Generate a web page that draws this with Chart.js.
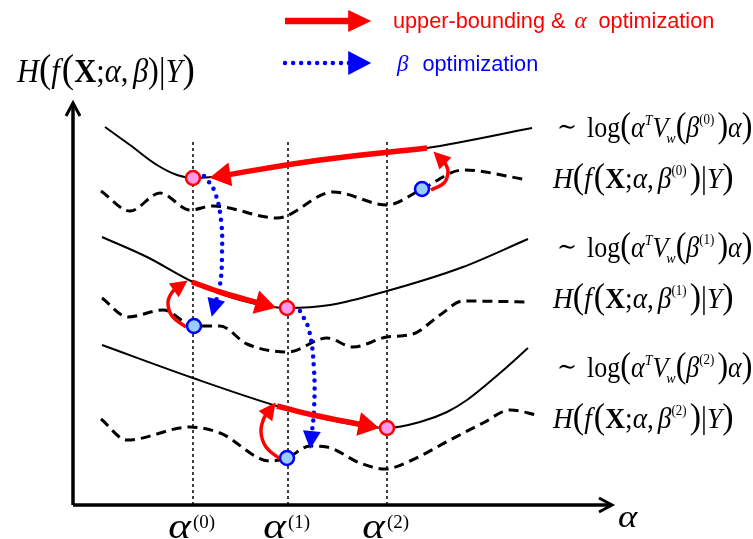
<!DOCTYPE html>
<html>
<head>
<meta charset="utf-8">
<script src="https://cdn.jsdelivr.net/npm/chart.js@4.4.1/dist/chart.umd.min.js"></script>
<style>
  html, body { margin: 0; padding: 0; background: #fff; }
  #wrap { width: 753px; height: 539px; }
</style>
</head>
<body>
<div id="wrap"><canvas id="diagram"></canvas></div>
<script>
// alpha of the three iterates (vertical guides)
const alphaIter = [120, 215, 314];
const iterTags = ['(0)', '(1)', '(2)'];

// upper bounds ~ log(a^T Vw(b) a)
const ub0Alpha = [32, 57, 84, 104, 120, 227, 354, 459];
const ub0 = [378, 360, 340, 330, 327, 342, 357, 377];
const ub1Alpha = [29, 74, 120, 167, 214, 257, 314, 390, 455];
const ub1 = [268, 248, 223, 205, 197, 200, 214, 238, 266];
const ub2Alpha = [29, 120, 204, 257, 314, 347, 374, 394, 427, 455];
const ub2 = [160, 127, 99, 85, 77, 83, 93, 105, 132, 157];

// true entropies H(f(X;a,b)|Y)
const h0Alpha = [28, 57, 87, 117, 140, 204, 260, 314, 349, 390, 455];
const h0 = [314, 294, 312, 295, 299, 287, 313, 300, 316, 335, 325];
const h1Alpha = [29, 55, 90, 121, 147, 174, 215, 254, 280, 314, 340, 367, 390, 457];
const h1 = [207, 188, 195, 179, 179, 161, 153, 167, 158, 168, 171, 190, 204, 203];
const h2Alpha = [28, 54, 117, 147, 197, 214, 237, 254, 287, 312, 337, 377, 410, 437, 464];
const h2 = [86, 65, 78, 72, 44, 47, 59, 58, 42, 36, 44, 65, 82, 95, 90];

// iterates: after alpha step (pink) and after beta step (blue)
const alphaStepA = [120, 214, 314];
const alphaStepH = [327, 197, 77];
const betaStepA = [349, 121, 214];
const betaStepH = [316, 179, 47];

// alpha optimisation moves along the bound
const moveA = [[354, 247, 147], [119, 147, 193], [204, 240, 296]];
const moveH = [[357, 345, 329], [223, 213, 200], [99, 90, 79]];
// upper-bounding hooks (entropy -> bound)
const hookA = [[358, 371, 375, 372, 367], [113, 99, 95, 100, 107], [207, 193, 188, 191, 197]];
const hookH = [[315, 322, 333, 342, 347], [178, 189, 203, 214, 219], [46, 58, 73, 87, 95]];
// beta optimisation moves
const betaMoveA = [[131, 141, 148, 149, 147, 141], [227, 236, 241, 241, 238]];
const betaMoveH = [[329, 315, 285, 250, 220, 197], [194, 175, 135, 95, 65]];

// legend sample arrows
const legendA = [212, 289];
const legendRedH = 484;
const legendBlueH = 442;

const axisXEnd = 539;
const axisYEnd = 402;

const SERIF = '"Liberation Serif", "Times New Roman", serif';
const SANS = '"Liberation Sans", Arial, sans-serif';
const RED = '#ff0000';
const BLUE = '#0000ff';

function pts(a, h) {
    return a.map((v, i) => ({ x: v, y: h[i] }));
}

function curve(a, h, dashed) {
    return {
        data: pts(a, h), showLine: true, pointRadius: 0,
        borderColor: '#000', borderWidth: dashed ? 3 : 2,
        borderDash: dashed ? [10, 6] : [],
        cubicInterpolationMode: 'monotone', order: 5
    };
}

function arrow(a, h, color, width, head, dotted) {
    return {
        data: pts(a, h), showLine: true, pointRadius: 0,
        borderColor: color, borderWidth: width, tension: 0.4,
        borderDash: dotted ? [0, 8] : [], borderCapStyle: dotted ? 'round' : 'butt',
        head: head, order: 3
    };
}

const datasets = [];
// markers on top
datasets.push({
    data: pts(alphaStepA, alphaStepH), pointRadius: 7, pointBorderWidth: 2.5,
    pointBackgroundColor: '#ff99ee', pointBorderColor: RED, order: 0
});
datasets.push({
    data: pts(betaStepA, betaStepH), pointRadius: 7, pointBorderWidth: 2.5,
    pointBackgroundColor: '#99ccff', pointBorderColor: BLUE, order: 0
});
const bigHead = { len: 21, half: 12, lead: 0.5 };
const hookHead = { len: 17, half: 8.5, lead: 0.55 };
const blueHead = { len: 18, half: 9, lead: 0.5 };
moveA.forEach((a, i) => datasets.push(arrow(a, moveH[i], RED, 5.5, bigHead)));
hookA.forEach((a, i) => datasets.push(arrow(a, hookH[i], RED, 3.5, hookHead)));
betaMoveA.forEach((a, i) => datasets.push(arrow(a, betaMoveH[i], BLUE, 4.5, blueHead, true)));
datasets.push(arrow(legendA, [legendRedH, legendRedH], RED, 6.5, { len: 23, half: 11, lead: 0.4 }));
datasets.push(arrow(legendA, [legendBlueH, legendBlueH], BLUE, 4.5, { len: 23, half: 12, lead: 0.4 }, true));

datasets.push(curve(ub0Alpha, ub0, false));
datasets.push(curve(ub1Alpha, ub1, false));
datasets.push(curve(ub2Alpha, ub2, false));
datasets.push(curve(h0Alpha, h0, true));
datasets.push(curve(h1Alpha, h1, true));
datasets.push(curve(h2Alpha, h2, true));

alphaIter.forEach(a => datasets.push({
    data: [{ x: a, y: 0 }, { x: a, y: 365 }], showLine: true, pointRadius: 0,
    borderColor: '#000', borderWidth: 1.5, borderDash: [3, 3], order: 8
}));

// axes
const axisHead = { len: 13, half: 7, lead: 0, open: true };
datasets.push({
    data: [{ x: 0, y: 0 }, { x: axisXEnd, y: 0 }], showLine: true, pointRadius: 0,
    borderColor: '#000', borderWidth: 3.5, head: axisHead, order: 6
});
datasets.push({
    data: [{ x: 0, y: 0 }, { x: 0, y: axisYEnd }], showLine: true, pointRadius: 0,
    borderColor: '#000', borderWidth: 3.5, head: axisHead, order: 6
});

const arrowHeads = {
    id: 'arrowHeads',
    afterDatasetDraw(chart, args) {
        const ds = chart.data.datasets[args.index];
        if (!ds.head) return;
        const p = args.meta.data;
        const last = p[p.length - 1];
        let bx = p[p.length - 2].x, by = p[p.length - 2].y;
        if (last.cp1x !== undefined && Math.hypot(last.x - last.cp1x, last.y - last.cp1y) > 1) {
            bx = last.cp1x; by = last.cp1y;
        }
        let dx = last.x - bx, dy = last.y - by;
        const d = Math.hypot(dx, dy);
        dx /= d; dy /= d;
        const h = ds.head;
        const tx = last.x + dx * h.len * h.lead, ty = last.y + dy * h.len * h.lead;
        const cx = tx - dx * h.len, cy = ty - dy * h.len;
        const ctx = chart.ctx;
        ctx.save();
        ctx.beginPath();
        ctx.moveTo(cx - dy * h.half, cy + dx * h.half);
        ctx.lineTo(tx, ty);
        ctx.lineTo(cx + dy * h.half, cy - dx * h.half);
        if (h.open) {
            ctx.strokeStyle = ds.borderColor;
            ctx.lineWidth = 3;
            ctx.lineJoin = 'miter';
            ctx.stroke();
        } else {
            ctx.closePath();
            ctx.fillStyle = ds.borderColor;
            ctx.fill();
        }
        ctx.restore();
    }
};

function rich(ctx, runs, x, y, sy) {
    ctx.save();
    ctx.translate(x, y);
    ctx.scale(1, sy);
    let cx = 0;
    for (const r of runs) {
        ctx.font = r.f;
        ctx.fillText(r.t, cx, r.dy || 0);
        cx += ctx.measureText(r.t).width + (r.k || 0);
    }
    ctx.restore();
    return cx;
}

const it = s => `italic ${s}px ${SERIF}`;
const up = s => `${s}px ${SERIF}`;
const bd = s => `bold ${s}px ${SERIF}`;

function boundRuns(tag) {
    return [
        { t: '\u223C', f: `24px "DejaVu Serif"`, dy: -2, k: 10 },
        { t: 'log', f: up(26) },
        { t: '(', f: up(32) },
        { t: '\u03B1', f: it(26) },
        { t: 'T', f: it(14), dy: -11 },
        { t: 'V', f: it(26), k: -2 },
        { t: 'w', f: it(14), dy: 5 },
        { t: '(', f: up(32) },
        { t: '\u03B2', f: it(26) },
        { t: tag, f: up(13), dy: -12, k: 3 },
        { t: ')', f: up(32) },
        { t: '\u03B1', f: it(26) },
        { t: ')', f: up(32) }
    ];
}

function entropyRuns(tag, s) {
    const b = Math.round(s * 1.22);
    return [
        { t: 'H', f: it(s) },
        { t: '(', f: up(b) },
        { t: 'f', f: it(s), k: 2 },
        { t: '(', f: up(b) },
        { t: 'X', f: bd(s) },
        { t: ';', f: up(s) },
        { t: '\u03B1', f: it(s) },
        { t: ', ', f: up(s), k: -3 },
        { t: '\u03B2', f: it(s) },
        ...(tag ? [{ t: tag, f: up(13), dy: -12, k: 3 }] : []),
        { t: ')', f: up(tag ? b : s + 2) },
        { t: '|', f: up(s + 2) },
        { t: 'Y', f: it(s) },
        { t: ')', f: up(b) }
    ];
}

const labels = {
    id: 'labels',
    afterDraw(chart) {
        const ctx = chart.ctx;
        const sx = chart.scales.x;
        ctx.save();
        ctx.textBaseline = 'alphabetic';
        ctx.fillStyle = '#000';

        // y axis title
        rich(ctx, entropyRuns(null, 30.5), 17, 82, 1.08);

        // curve labels, right side
        const boundBase = [137, 257, 377];
        const entBase = [188, 308, 428];
        iterTags.forEach((tag, i) => {
            rich(ctx, boundRuns(tag), 557, boundBase[i], 1.1);
            rich(ctx, entropyRuns(tag, 27.5), 553, entBase[i], 1.08);
        });

        // alpha iterate tick labels
        alphaIter.forEach((a, i) => {
            const x = sx.getPixelForValue(a);
            ctx.save();
            ctx.translate(x - 2, 538);
            ctx.scale(1.2, 1);
            ctx.font = it(36);
            ctx.textAlign = 'right';
            ctx.fillText('\u03B1', 0, 0);
            ctx.restore();
            ctx.textAlign = 'left';
            ctx.font = up(19);
            ctx.fillText(iterTags[i], x, 528);
        });

        // x axis title
        ctx.save();
        ctx.translate(618, 527);
        ctx.scale(1.15, 1);
        ctx.font = it(32);
        ctx.fillText('\u03B1', 0, 0);
        ctx.restore();

        // legend text
        ctx.fillStyle = RED;
        rich(ctx, [
            { t: 'upper-bounding & ', f: `21.7px ${SANS}`, k: 3 },
            { t: '\u03B1', f: it(23), k: 6 },
            { t: ' optimization', f: `21.7px ${SANS}` }
        ], 393, 28, 1);
        ctx.fillStyle = BLUE;
        rich(ctx, [
            { t: '\u03B2', f: it(23), k: 8 },
            { t: ' optimization', f: `21.7px ${SANS}` }
        ], 397, 71, 1);
        ctx.restore();
    }
};

new Chart(document.getElementById('diagram'), {
    type: 'scatter',
    data: { datasets: datasets },
    options: {
        animation: false,
        responsive: true,
        maintainAspectRatio: false,
        layout: { padding: 0, autoPadding: false },
        plugins: { legend: { display: false }, tooltip: { enabled: false } },
        scales: {
            x: { type: 'linear', min: -73, max: 680, display: false },
            y: { type: 'linear', min: -34, max: 505, display: false }
        }
    },
    plugins: [arrowHeads, labels]
});
</script>
</body>
</html>
